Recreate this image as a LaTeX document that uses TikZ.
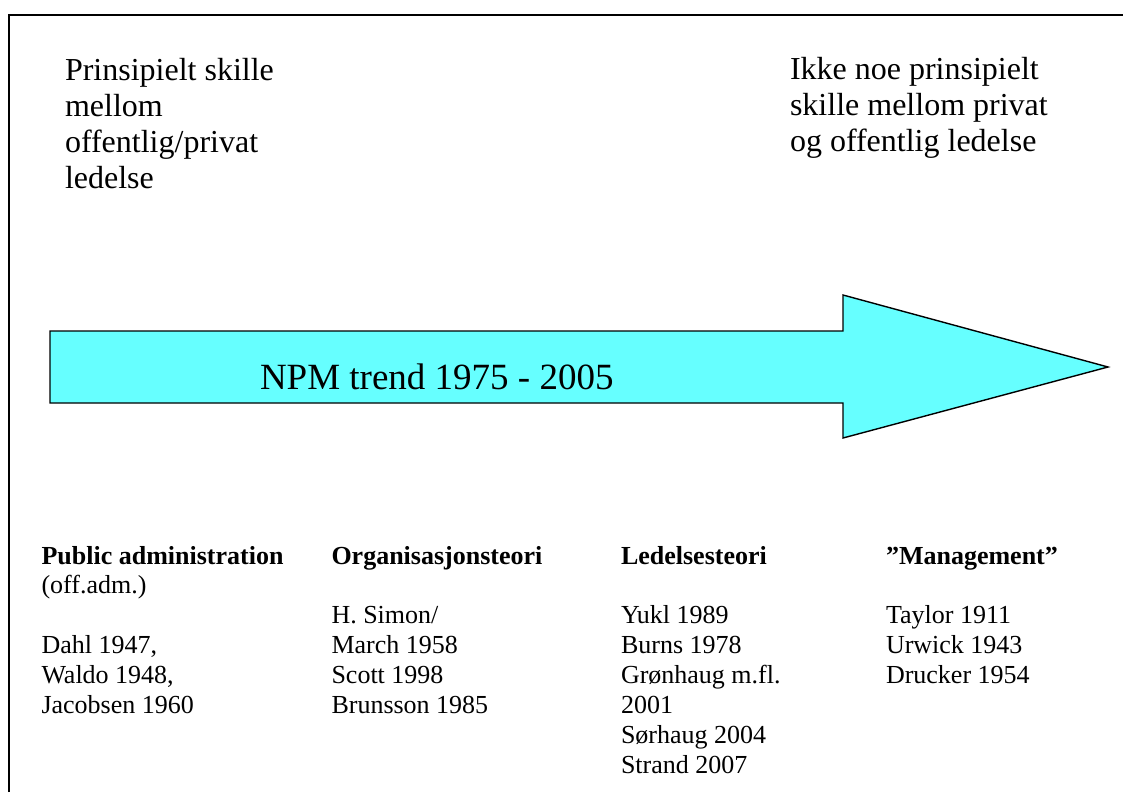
\documentclass[tikz,border=0pt]{standalone}
\usepackage{fontspec}
\setmainfont{Liberation Serif}
\definecolor{arrowcyan}{RGB}{102,255,255}
\tikzset{
  txt/.style={anchor=base west, inner sep=0pt, outer sep=0pt},
  toptxt/.style={txt, font=\fontsize{32}{36}\selectfont},
  npmtxt/.style={txt, font=\fontsize{37}{42}\selectfont},
  bottxt/.style={txt, font=\fontsize{26}{30}\selectfont},
  bothead/.style={txt, font=\fontsize{26}{30}\selectfont\bfseries},
  frameline/.style={line width=2pt},
  bigarrow/.style={draw=black, line width=1.4pt, fill=arrowcyan, line join=miter}
}
\begin{document}
\begin{tikzpicture}[x=1pt,y=-1pt]
\useasboundingbox (0,0) rectangle (1123,792);
% frame
\draw[frameline] (9,792) -- (9,15) -- (1123,15);
% arrow
\draw[bigarrow] (50,331) -- (843,331) -- (843,295) -- (1108,367) -- (843,438) -- (843,403) -- (50,403) -- cycle;
\node[npmtxt] (npm) at (260,389) {NPM trend 1975 - 2005};
% top left
\foreach \t [count=\i] in {Prinsipielt skille, mellom, offentlig/privat, ledelse}
  \node[toptxt] (tl\i) at (65,{80.5+(\i-1)*36}) {\t};
% top right
\foreach \t [count=\i] in {Ikke noe prinsipielt, skille mellom privat, og offentlig ledelse}
  \node[toptxt] (tr\i) at (790,{79.5+(\i-1)*36}) {\t};
% headings
\node[bothead] (h1) at (41.5,564) {Public administration};
\node[bothead] (h2) at (331.5,564) {Organisasjonsteori};
\node[bothead] (h3) at (621,564) {Ledelsesteori};
\node[bothead] (h4) at (886,564) {”Management”};
% column 1
\foreach \t [count=\i] in {(off.adm.), {}, {Dahl 1947,}, {Waldo 1948,}, Jacobsen 1960}
  \node[bottxt] (ca\i) at (41.5,{564+\i*29.9}) {\t};
% column 2
\foreach \t [count=\i] in {{}, H. Simon/, March 1958, Scott 1998, Brunsson 1985}
  \node[bottxt] (cb\i) at (331.5,{564+\i*29.9}) {\t};
% column 3
\foreach \t [count=\i] in {{}, Yukl 1989, Burns 1978, Grønhaug m.fl., 2001, Sørhaug 2004, Strand 2007}
  \node[bottxt] (cc\i) at (621,{564+\i*29.9}) {\t};
% column 4
\foreach \t [count=\i] in {{}, Taylor 1911, Urwick 1943, Drucker 1954}
  \node[bottxt] (cd\i) at (886,{564+\i*29.9}) {\t};
\end{tikzpicture}
\end{document}
